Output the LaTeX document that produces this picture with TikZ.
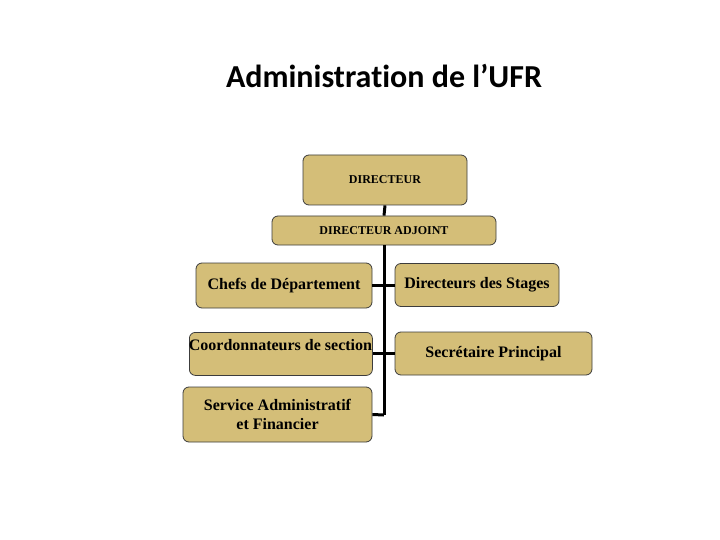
\documentclass[tikz,border=0pt]{standalone}
\usepackage{fontspec}
\setmainfont{Liberation Serif}
\newfontfamily\titlefont[RawFeature=-liga]{Carlito}
\definecolor{boxtan}{RGB}{212,190,120}
\definecolor{boxedge}{RGB}{60,60,60}
\tikzset{
  orgbox/.style={draw=boxedge, line width=0.8pt, fill=boxtan, rounded corners=6pt, inner sep=0pt, font=\bfseries\fontsize{16}{18}\selectfont, align=center},
  link/.style={line width=3pt, black}
}
\begin{document}
\begin{tikzpicture}[x=1pt,y=-1pt]
\useasboundingbox (0,0) rectangle (720,540);
\node[font=\titlefont\bfseries\fontsize{32}{36}\selectfont] (title) at (384,76) {Administration de l’UFR};
\node[orgbox, minimum width=164pt, minimum height=50pt, font=\bfseries\fontsize{12}{14}\selectfont] (dir) at (385,180) {DIRECTEUR};
\node[orgbox, minimum width=224pt, minimum height=29pt, font=\bfseries\fontsize{12}{14}\selectfont] (adj) at (384,230.5) {DIRECTEUR ADJOINT};
\node[orgbox, minimum width=176pt, minimum height=45pt] (chefs) at (284,285.5) {Chefs de Département};
\node[orgbox, minimum width=164pt, minimum height=43pt] (stages) at (477,285) {Directeurs des Stages};
\node[orgbox, minimum width=183pt, minimum height=43pt, anchor=north west] (coord) at (189,332) {};
\node[font=\bfseries\fontsize{16}{18}\selectfont] (coordtxt) at (280.5,345) {Coordonnateurs de section};
\node[orgbox, minimum width=197pt, minimum height=43pt] (secr) at (493.5,353.5) {Secrétaire Principal};
\node[orgbox, minimum width=189pt, minimum height=55pt] (serv) at (277.5,414.5) {Service Administratif\\[1pt]et Financier};
\coordinate (spine) at (384,415);
\draw[link] (dir.south) -- (adj.north);
\draw[link] (adj.south) -- (spine);
\draw[link] (chefs.east) -- (stages.west |- chefs.east);
\draw[link] (coord.east |- secr.west) -- (secr.west);
\draw[link] (serv.east) -- (spine);
\end{tikzpicture}
\end{document}
